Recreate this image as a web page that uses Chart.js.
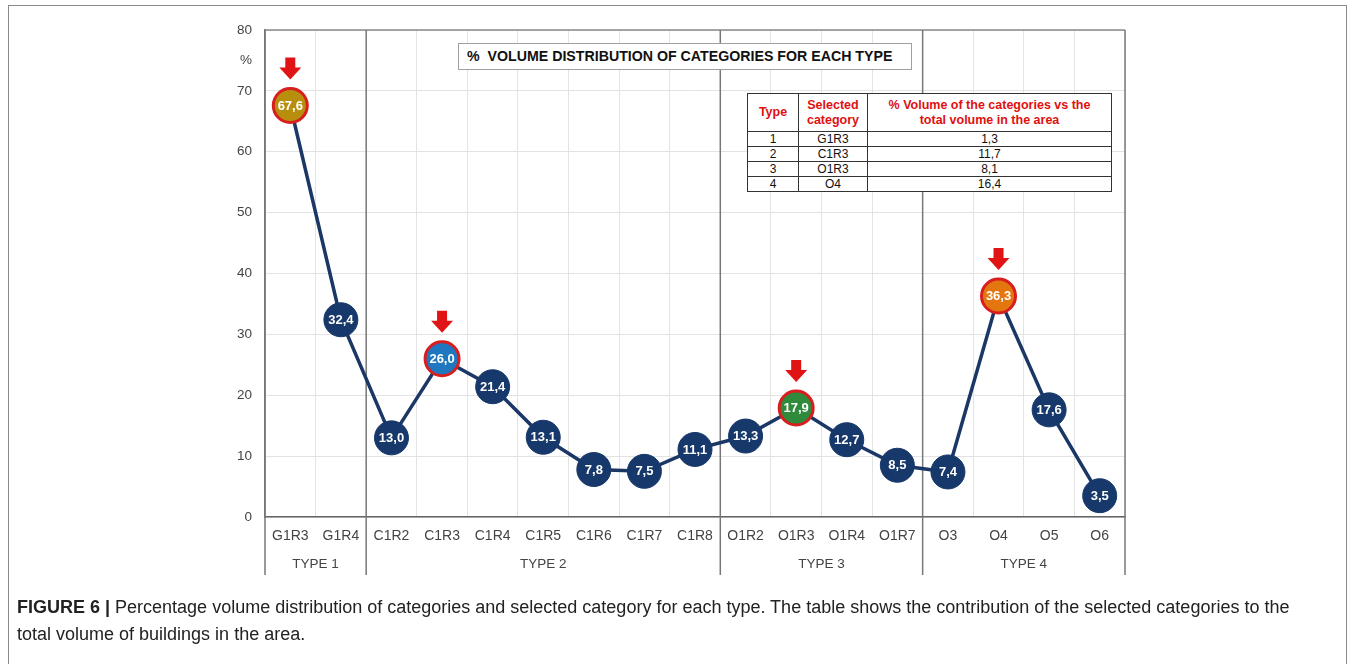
<!DOCTYPE html>
<html><head><meta charset="utf-8">
<script src="https://cdn.jsdelivr.net/npm/chart.js@4"></script>
<style>
html,body{margin:0;padding:0;background:#fff;}
#wrap{position:relative;width:1354px;height:664px;overflow:hidden;font-family:"Liberation Sans",Arial,sans-serif;}
#frame{position:absolute;left:8px;top:5px;width:1337px;height:720px;border:1px solid #8a8a8a;}
#c{position:absolute;left:0;top:0;}
#title{position:absolute;left:458px;top:43px;width:454px;height:27px;border:1px solid #a0a0a0;background:#fff;box-sizing:border-box;font-weight:bold;font-size:14.2px;line-height:25px;padding-left:8px;color:#111;white-space:nowrap;}
#tbl{position:absolute;left:747px;top:93px;border-collapse:collapse;background:#fff;font-size:12px;color:#111;}
#tbl td,#tbl th{border:1.5px solid #333;padding:0;text-align:center;height:14px;line-height:13px;}
#tbl th{color:#e01010;font-weight:bold;height:37px;font-size:12.5px;line-height:15px;}
#cap{position:absolute;left:17px;top:594px;width:1330px;font-size:18px;line-height:27px;color:#222;white-space:nowrap;}
</style></head>
<body>
<div id="wrap">
  <div id="frame"></div>
  <canvas id="c" width="1354" height="664"></canvas>
  <div id="title">% &nbsp;VOLUME DISTRIBUTION OF CATEGORIES FOR EACH TYPE</div>
  <table id="tbl">
    <tr><th style="width:50px">Type</th><th style="width:68px">Selected<br>category</th><th style="width:243px">% Volume of the categories vs the<br>total volume in the area</th></tr>
    <tr><td>1</td><td>G1R3</td><td>1,3</td></tr>
    <tr><td>2</td><td>C1R3</td><td>11,7</td></tr>
    <tr><td>3</td><td>O1R3</td><td>8,1</td></tr>
    <tr><td>4</td><td>O4</td><td>16,4</td></tr>
  </table>
  <div id="cap"><b>FIGURE 6 |</b> Percentage volume distribution of categories and selected category for each type. The table shows the contribution of the selected categories to the<br>total volume of buildings in the area.</div>
</div>
<script>
const categories = ['G1R3','G1R4','C1R2','C1R3','C1R4','C1R5','C1R6','C1R7','C1R8','O1R2','O1R3','O1R4','O1R7','O3','O4','O5','O6'];
const values = [67.6,32.4,13.0,26.0,21.4,13.1,7.8,7.5,11.1,13.3,17.9,12.7,8.5,7.4,36.3,17.6,3.5];
const typeLabels = ['TYPE 1','TYPE 2','TYPE 3','TYPE 4'];
const typeSizes = [2,7,4,4];
const selected = ['G1R3','C1R3','O1R3','O4'];
const yTickLabels = {0:'0',10:'10',20:'20',30:'30',40:'40',50:'50',60:'60',70:'70',75:'%',80:'80'};

const NAVY = '#17386a';
const selFill = {G1R3:'#b88f0c', C1R3:'#1f78bf', O1R3:'#2f8a3b', O4:'#e4760f'};
const RED = '#d81e1e';
const FONT = '"Liberation Sans", Arial, sans-serif';

const deco = {
  id:'deco',
  beforeDatasetsDraw(chart){
    const {ctx, chartArea:a, scales:{x}} = chart;
    ctx.save();
    ctx.strokeStyle = '#8a8a8a';
    ctx.lineWidth = 1.5;
    ctx.beginPath(); ctx.moveTo(a.left, a.top); ctx.lineTo(a.right, a.top); ctx.stroke();
    const step = x.getPixelForValue(1) - x.getPixelForValue(0);
    let idx = 0;
    const bounds = [x.getPixelForValue(0) - step/2];
    typeSizes.forEach(n => { idx += n; bounds.push(x.getPixelForValue(idx-1) + step/2); });
    ctx.strokeStyle = '#777';
    bounds.forEach(b => { ctx.beginPath(); ctx.moveTo(b, a.top); ctx.lineTo(b, a.bottom + 58); ctx.stroke(); });
    ctx.fillStyle = '#444';
    ctx.font = '13.5px ' + FONT;
    ctx.textAlign = 'center'; ctx.textBaseline = 'middle';
    for (let i=0;i<typeLabels.length;i++) ctx.fillText(typeLabels[i], (bounds[i]+bounds[i+1])/2, a.bottom + 47);
    ctx.restore();
  },
  afterDatasetsDraw(chart){
    const {ctx} = chart;
    const meta = chart.getDatasetMeta(0);
    ctx.save();
    ctx.font = 'bold 13px ' + FONT;
    ctx.textAlign = 'center'; ctx.textBaseline = 'middle';
    meta.data.forEach((pt, i) => {
      ctx.fillStyle = '#fff';
      ctx.fillText(values[i].toFixed(1).replace('.', ','), pt.x, pt.y + 0.5);
      if (selected.includes(categories[i])) {
        const top = pt.y - 48, mid = pt.y - 38, bot = pt.y - 26;
        ctx.fillStyle = '#e01414';
        ctx.beginPath();
        ctx.moveTo(pt.x - 5, top); ctx.lineTo(pt.x + 5, top); ctx.lineTo(pt.x + 5, mid);
        ctx.lineTo(pt.x + 11, mid); ctx.lineTo(pt.x, bot); ctx.lineTo(pt.x - 11, mid);
        ctx.lineTo(pt.x - 5, mid); ctx.closePath(); ctx.fill();
      }
    });
    ctx.restore();
  }
};

new Chart(document.getElementById('c'), {
  type:'line',
  data:{ labels: categories, datasets:[{
    data: values,
    borderColor: '#1b3766', borderWidth: 3.5, tension: 0,
    pointRadius: 17, pointHoverRadius: 17,
    pointBackgroundColor: categories.map(c => selFill[c] || NAVY),
    pointBorderColor: categories.map(c => selected.includes(c) ? RED : NAVY),
    pointBorderWidth: categories.map(c => selected.includes(c) ? 3 : 1),
    clip: false
  }]},
  options:{
    responsive:false, animation:false,
    layout:{ padding:{ left:0, top:30, right:229, bottom:0 } },
    plugins:{ legend:{display:false}, tooltip:{enabled:false}, title:{display:false} },
    scales:{
      x:{ offset:true,
          grid:{ offset:true, color:'#e3e3e3', lineWidth:1, drawTicks:false },
          border:{ color:'#666', width:1.5 },
          ticks:{ color:'#444', font:{ size:14, family:FONT }, padding:11, maxRotation:0, autoSkip:false },
          afterFit(s){ s.height = 147; } },
      y:{ min:0, max:80,
          grid:{ color: c => (c.tick && c.tick.value % 10 === 0) ? '#e3e3e3' : 'rgba(0,0,0,0)', drawTicks:false },
          border:{ color:'#777', width:1.5 },
          ticks:{ stepSize:5, color:'#444', padding:13, font:{ size:13.5, family:FONT },
                  callback: v => (v in yTickLabels) ? yTickLabels[v] : '' },
          afterFit(s){ s.width = 265; } }
    }
  },
  plugins:[deco]
});
</script>
</body></html>
